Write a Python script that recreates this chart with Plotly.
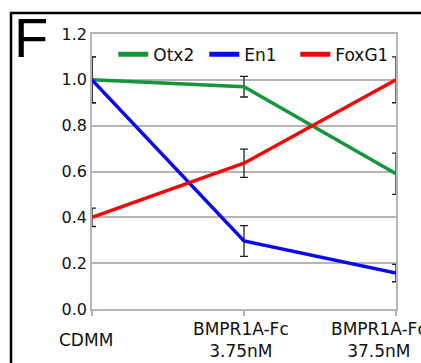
import plotly.graph_objects as go

categories = ["CDMM", "BMPR1A-Fc<br>3.75nM", "BMPR1A-Fc<br>37.5nM"]
series_names = ["Otx2", "En1", "FoxG1"]
otx2 = [1.0, 0.97, 0.59]
otx2_err = [0.1, 0.045, 0.09]
en1 = [1.0, 0.297, 0.157]
en1_err = [0.1, 0.067, 0.038]
foxg1 = [0.40, 0.636, 1.0]
foxg1_err = [0.04, 0.062, 0.1]
y_ticks = [0.0, 0.2, 0.4, 0.6, 0.8, 1.0, 1.2]
colors = ["#14963a", "#0a0aef", "#f00808"]

# label placement (pixels), styling only
label_xshift = [-6, -3, -17]

xs = list(range(len(categories)))
fig = go.Figure()
for name, vals, errs, col in zip(series_names, [otx2, en1, foxg1],
                                 [otx2_err, en1_err, foxg1_err], colors):
    fig.add_trace(go.Scatter(
        x=xs, y=vals, name=name, mode="lines", showlegend=False,
        line=dict(color=col, width=3.5),
        error_y=dict(type="data", array=errs, visible=True,
                     color="#222222", thickness=1.3, width=4),
        cliponaxis=False,
    ))
# legend entries with thicker key lines (no data of their own)
for name, col in zip(series_names, colors):
    fig.add_trace(go.Scatter(x=[None], y=[None], name=name, mode="lines",
                             line=dict(color=col, width=5), showlegend=True))

for i, c in enumerate(categories):
    fig.add_annotation(x=xs[i], y=0, xref="x", yref="paper", text=c,
                       showarrow=False, yanchor="middle", xanchor="center",
                       yshift=-31, xshift=label_xshift[i], borderpad=0,
                       font=dict(family="DejaVu Sans", size=17, color="#111"))

fig.add_annotation(x=-0.2007, y=0.989, xref="paper", yref="paper", text="F",
                   showarrow=False, xanchor="center", yanchor="middle",
                   font=dict(family="Liberation Sans", size=56, color="black"))

fig.add_shape(type="rect", xref="paper", yref="paper",
              x0=-0.2664, x1=1.2, y0=-0.4, y1=1.0764,
              line=dict(color="black", width=2.5))

fig.update_layout(
    width=421, height=363,
    margin=dict(l=92, r=25, t=34, b=54),
    plot_bgcolor="white", paper_bgcolor="white",
    showlegend=True,
    legend=dict(orientation="h", x=0.07, y=0.99, xanchor="left", yanchor="top",
                bgcolor="rgba(0,0,0,0)", font=dict(family="DejaVu Sans", size=17, color="#111"),
                itemwidth=30, tracegroupgap=0, entrywidth=46, entrywidthmode="pixels"),
    xaxis=dict(range=[0, 2], tickvals=xs, ticktext=[""] * len(xs),
               showgrid=False, zeroline=False, showline=True, mirror=True,
               linecolor="#b5b5b5", linewidth=1.5,
               ticks="outside", ticklen=5, tickcolor="#b5b5b5", tickwidth=1.5),
    yaxis=dict(range=[0, 1.2], tickvals=y_ticks,
               ticktext=[f"{v:.1f}" for v in y_ticks],
               showgrid=True, gridcolor="#b5b5b5", gridwidth=1.5,
               zeroline=False, showline=True, mirror=True,
               linecolor="#b5b5b5", linewidth=1.5, ticks="",
               tickfont=dict(family="DejaVu Sans", size=16, color="#111")),
)
fig.write_html("out.html")
